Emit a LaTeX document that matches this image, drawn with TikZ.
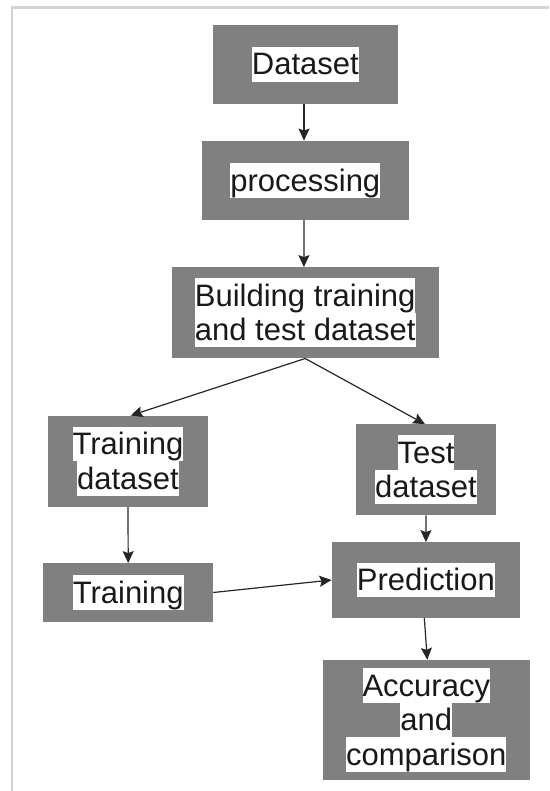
\documentclass[tikz,border=0pt]{standalone}
\usepackage{fontspec}
\setmainfont{Liberation Sans}
\usetikzlibrary{arrows.meta}
\definecolor{boxgray}{RGB}{128,128,128}
\definecolor{framegray}{RGB}{211,211,211}
\newcommand{\hl}[1]{{\setlength{\fboxsep}{0pt}\colorbox{white}{\rule[-6.6pt]{0pt}{34.6pt}#1}}}
\tikzset{
  stage/.style={fill=boxgray, inner sep=0pt, align=center, text=black!90,
    font=\fontsize{31}{34.6}\selectfont},
  flow/.style={-{Stealth[length=12pt, width=11pt, inset=2pt]}, line width=1.2pt, draw=black!85}
}
\begin{document}
\begin{tikzpicture}[x=1pt, y=-1pt]
\useasboundingbox (0,0) rectangle (549,791);
% frame
\draw[framegray, line width=2.5pt] (12,791) -- (12,7.7) -- (549,7.7);
% stages
\node[stage, minimum width=185.6pt, minimum height=79.5pt] (data) at (305.3,64.3) {\hl{Dataset}};
\node[stage, minimum width=206.6pt, minimum height=79.2pt] (proc) at (305.3,180.4) {\hl{processing}};
\node[stage, minimum width=267pt, minimum height=91pt] (build) at (305.2,312.8)
{\hl{Building training}\\\hl{and test dataset}};
\node[stage, minimum width=159.4pt, minimum height=91pt] (trainset) at (128,461.2)
{\hl{Training}\\\hl{dataset}};
\node[stage, minimum width=140pt, minimum height=90.7pt] (testset) at (426,469.7)
{\hl{Test}\\\hl{dataset}};
\node[stage, minimum width=169.7pt, minimum height=58.4pt] (train) at (128.2,592.5) {\hl{Training}};
\node[stage, minimum width=188.3pt, minimum height=75.4pt] (pred) at (425.9,580) {\hl{Prediction}};
\node[stage, minimum width=207.3pt, minimum height=120pt] (acc) at (426.3,720)
{\hl{Accuracy}\\\hl{and}\\\hl{comparison}};
% connectors
\draw[flow] ([xshift=-1.3pt]data.south) -- ([xshift=-1.3pt]proc.north);
\draw[flow] ([xshift=-1.3pt]proc.south) -- ([xshift=-1.3pt]build.north);
\draw[flow] (build.south) -- ([xshift=2.7pt]trainset.north);
\draw[flow] (build.south) -- ([xshift=-1pt]testset.north);
\draw[flow] (trainset.south) -- (train.north);
\draw[flow] (testset.south) -- (pred.north);
\draw[flow] (train.east) -- (pred.west);
\draw[flow] ([xshift=-1.6pt]pred.south) -- ([xshift=1pt]acc.north);
\end{tikzpicture}
\end{document}
